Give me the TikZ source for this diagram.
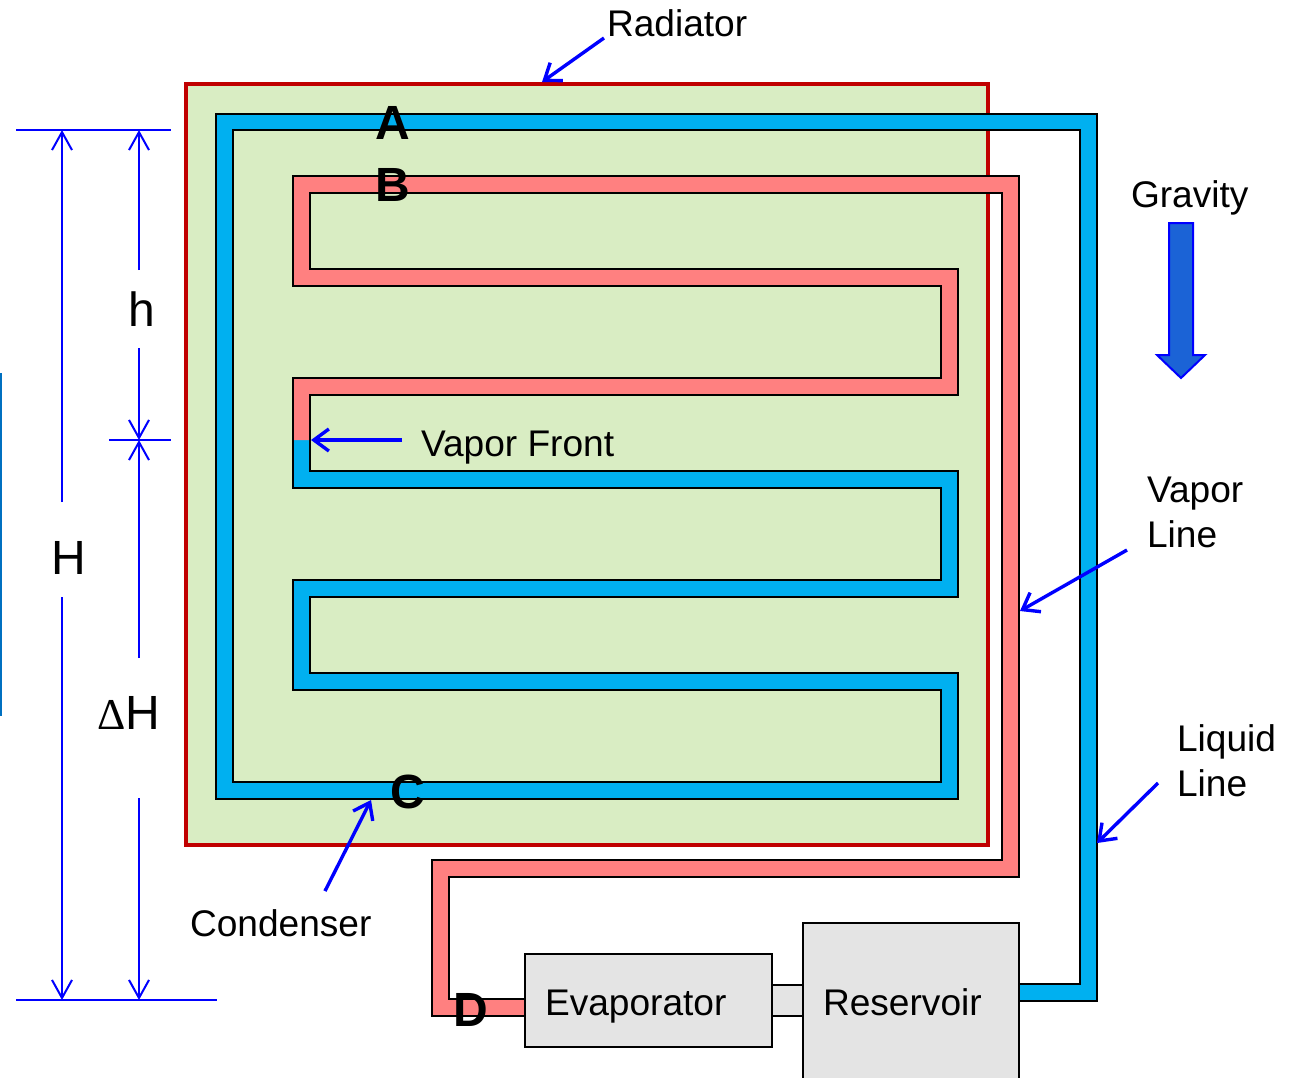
\documentclass[tikz,border=0pt]{standalone}
\usepackage{fontspec}
\setmainfont{Liberation Sans}
\newfontfamily\deltafont{Liberation Serif}
\usetikzlibrary{arrows.meta}
\definecolor{pipeblue}{HTML}{00B0F0}
\definecolor{pipered}{HTML}{FF8080}
\definecolor{radfill}{HTML}{D9EDC3}
\definecolor{radline}{HTML}{C00000}
\definecolor{boxfill}{HTML}{E4E4E4}
\definecolor{edgeblue}{HTML}{0070C0}
\definecolor{gravfill}{HTML}{1B63D6}
\tikzset{
  lbl/.style={inner sep=0pt,outer sep=0pt,anchor=base west,font=\fontsize{37.1}{45}\selectfont,align=left},
  biglbl/.style={inner sep=0pt,outer sep=0pt,anchor=base west,font=\fontsize{48}{52}\selectfont},
  ptlbl/.style={inner sep=0pt,outer sep=0pt,anchor=base west,font=\fontsize{48}{52}\selectfont\bfseries},
  pipeedge/.style={draw=black,line width=1.2pt,line join=miter},
  dimline/.style={draw=blue,line width=2pt},
  dimtip/.style={dimline,-{Straight Barb[length=18pt,width=20pt,line width=2pt]}},
  callout/.style={draw=blue,line width=3.4pt,-{Straight Barb[length=15pt,width=22pt,line width=3.4pt]}},
  unit/.style={draw=black,line width=2.6pt,fill=boxfill,inner sep=0pt,outer sep=0pt,anchor=north west},
}
\begin{document}
\begin{tikzpicture}[x=1pt,y=-1pt]
\useasboundingbox (0,0) rectangle (1295,1077);
% radiator
\node (radiator) [draw=radline,line width=3.2pt,fill=radfill,inner sep=0pt,outer sep=0pt,anchor=north west,minimum width=802pt,minimum height=761pt] at (186,84) {};
% left-edge stripe
\draw[draw=edgeblue,line width=2pt] (0.5,373) -- (0.5,716);
% liquid line fill
\fill[pipeblue] (1019,1001)--(1097,1001)--(1097,114)--(216,114)--(216,799)--(958,799)--(958,673)--(310,673)--(310,597)--(958,597)--(958,471)--(310,471)--(310,440)--(293,440)--(293,488)--(941,488)--(941,580)--(293,580)--(293,690)--(941,690)--(941,782)--(233,782)--(233,130)--(1080,130)--(1080,984)--(1019,984)--cycle;
% vapor line fill
\fill[pipered] (293,440)--(293,378)--(941,378)--(941,286)--(293,286)--(293,176)--(1019,176)--(1019,877)--(449,877)--(449,999)--(525,999)--(525,1016)--(432,1016)--(432,860)--(1002,860)--(1002,193)--(310,193)--(310,269)--(958,269)--(958,395)--(310,395)--(310,440)--cycle;
% pipe outlines
\draw[pipeedge] (1019,1001)--(1097,1001)--(1097,114)--(216,114)--(216,799)--(958,799)--(958,673)--(310,673)--(310,597)--(958,597)--(958,471)--(310,471)--(310,440);
\draw[pipeedge] (1019,984)--(1080,984)--(1080,130)--(233,130)--(233,782)--(941,782)--(941,690)--(293,690)--(293,580)--(941,580)--(941,488)--(293,488)--(293,440);
\draw[pipeedge] (310,440)--(310,395)--(958,395)--(958,269)--(310,269)--(310,193)--(1002,193)--(1002,860)--(432,860)--(432,1016)--(525,1016);
\draw[pipeedge] (293,440)--(293,378)--(941,378)--(941,286)--(293,286)--(293,176)--(1019,176)--(1019,877)--(449,877)--(449,999)--(525,999);
% components
\node (link) [unit,minimum width=31pt,minimum height=31pt] at (772,985) {};
\node (evap) [unit,minimum width=247pt,minimum height=93pt] at (525,954) {};
\node (res) [unit,minimum width=216pt,minimum height=156pt] at (803,923) {};
\node (evaptext) [lbl] at (545,1015) {Evaporator};
\node (restext) [lbl] at (823,1015) {Reservoir};
% point labels
\node (ptA) [ptlbl] at (375,139.5) {A};
\node (ptB) [ptlbl] at (375,201) {B};
\node (ptC) [ptlbl] at (390,808) {C};
\node (ptD) [ptlbl] at (453,1026) {D};
% text labels
\node (radtext) [lbl] at (607,36) {Radiator};
\node (gravtext) [lbl] at (1131,207) {Gravity};
\node (fronttext) [lbl] at (421,456) {Vapor Front};
\node (vaportext) [lbl] at (1147,547) {Vapor\\Line};
\node (liquidtext) [lbl] at (1177,796) {Liquid\\Line};
\node (condtext) [lbl] at (190,936.5) {Condenser};
\node (htext) [biglbl] at (128,326) {h};
\node (Htext) [biglbl] at (51,574.5) {H};
\node (dHtext) [biglbl] at (97,729.5) {{\deltafont\fontsize{44}{52}\selectfont Δ}H};
% gravity arrow
\draw[draw=blue,line width=2pt,fill=gravfill,line join=miter] (1169,223)--(1193,223)--(1193,355)--(1205,355)--(1181,378)--(1157,355)--(1169,355)--cycle;
% callout ends
\coordinate (c1s) at (604,38); \coordinate (c1e) at (542,82);
\coordinate (c2s) at (402,440); \coordinate (c2e) at (311,440);
\coordinate (c3s) at (1127,550); \coordinate (c3e) at (1020,611);
\coordinate (c4s) at (1158,783); \coordinate (c4e) at (1097,843);
\coordinate (c5s) at (325,891); \coordinate (c5e) at (371,800);
\draw[callout] (c1s) -- (c1e);
\draw[callout] (c2s) -- (c2e);
\draw[callout] (c3s) -- (c3e);
\draw[callout] (c4s) -- (c4e);
\draw[callout] (c5s) -- (c5e);
% dimension lines
\coordinate (t1) at (16,130); \coordinate (t2) at (171,130);
\coordinate (m1) at (109,440); \coordinate (m2) at (171,440);
\coordinate (b1) at (16,1000); \coordinate (b2) at (217,1000);
\draw[dimline] (t1) -- (t2);
\draw[dimline] (m1) -- (m2);
\draw[dimline] (b1) -- (b2);
\coordinate (Ht) at (62,130); \coordinate (Hu) at (62,502); \coordinate (Hl) at (62,597); \coordinate (Hb) at (62,1000);
\coordinate (ht) at (139,130); \coordinate (hu) at (139,270); \coordinate (hl) at (139,348); \coordinate (hm) at (139,440);
\coordinate (du) at (139,658); \coordinate (dl) at (139,798); \coordinate (db) at (139,1000);
\draw[dimtip] (Hu) -- (Ht);
\draw[dimtip] (Hl) -- (Hb);
\draw[dimtip] (hu) -- (ht);
\draw[dimtip] (hl) -- (hm);
\draw[dimtip] (du) -- (hm);
\draw[dimtip] (dl) -- (db);
\end{tikzpicture}
\end{document}
